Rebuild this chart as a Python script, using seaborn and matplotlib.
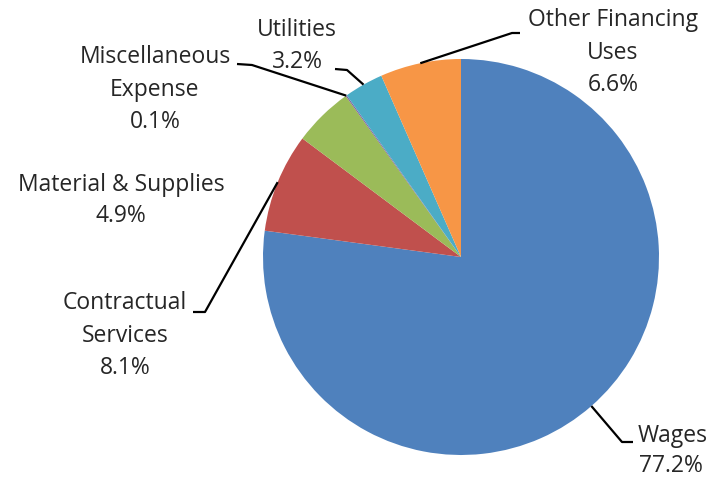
import numpy as np
import matplotlib
matplotlib.use("Agg")
import matplotlib.pyplot as plt
import seaborn as sns

# Budget shares (percent), in clockwise order starting at 12 o'clock
categories = ["Wages", "Contractual Services", "Material & Supplies",
              "Miscellaneous Expense", "Utilities", "Other Financing Uses"]
shares = [77.2, 8.1, 4.9, 0.1, 3.2, 6.6]
label_lines = [["Wages"], ["Contractual", "Services"], ["Material & Supplies"],
               ["Miscellaneous", "Expense"], ["Utilities"], ["Other Financing", "Uses"]]
colors = ["#4F81BD", "#C0504D", "#9BBB59", "#8064A2", "#4BACC6", "#F79646"]

sns.set_theme(style="white")
plt.rcParams["font.family"] = ["Open Sans", "DejaVu Sans"]

W, H = 708, 479
fig = plt.figure(figsize=(W / 100, H / 100), dpi=100)
ax = fig.add_axes([0, 0, 1, 1])

cx, cy, r = 461, H - 257, 198
wedges, _ = ax.pie(shares, colors=colors, startangle=90, counterclock=False,
                   center=(cx, cy), radius=r, frame=True,
                   wedgeprops=dict(linewidth=0))
ax.set_xlim(0, W)
ax.set_ylim(0, H)
ax.set_aspect("equal")
ax.axis("off")

def edge_point(w):
    mid = np.deg2rad((w.theta1 + w.theta2) / 2)
    return cx + r * np.cos(mid), cy + r * np.sin(mid)

# label layout: (text anchor x, y of first line, ha, line gap), leader elbow points
layout = {
    "Wages": dict(xy=(638, 436), ha="left", gap=30, elbow=[(622, 442), (633, 442)]),
    "Contractual Services": dict(xy=(125, 303), ha="center", gap=32.5, elbow=[(205, 312), (193, 312)]),
    "Material & Supplies": dict(xy=(121, 185), ha="center", gap=31, elbow=None),
    "Miscellaneous Expense": dict(xy=(155, 57), ha="center", gap=32.5, elbow=[(252, 65), (237, 64)]),
    "Utilities": dict(xy=(297, 30), ha="center", gap=32, elbow=[(347, 70), (335, 69)]),
    "Other Financing Uses": dict(xy=(613, 20), ha="center", gap=32.5, elbow=[(512, 33), (520, 33)]),
}

for w, name, lines, val in zip(wedges, categories, label_lines, shares):
    spec = layout[name]
    tx, ty = spec["xy"]
    all_lines = lines + [f"{val:.1f}%"]
    for i, s in enumerate(all_lines):
        x = tx
        ha = spec["ha"]
        if name == "Wages" and i == 1:
            x = tx + 33
            ha = "center"
        ax.text(x, H - (ty + i * spec["gap"]), s, ha=ha, va="center",
                fontsize=16.5, color="#262626")
    if spec["elbow"]:
        ex, ey = edge_point(w)
        pts = [(ex, ey)] + [(px, H - py) for px, py in spec["elbow"]]
        xs, ys = zip(*pts)
        ax.plot(xs, ys, color="black", lw=1.6, solid_capstyle="butt")

fig.savefig("out.png", dpi=100, facecolor="white")
